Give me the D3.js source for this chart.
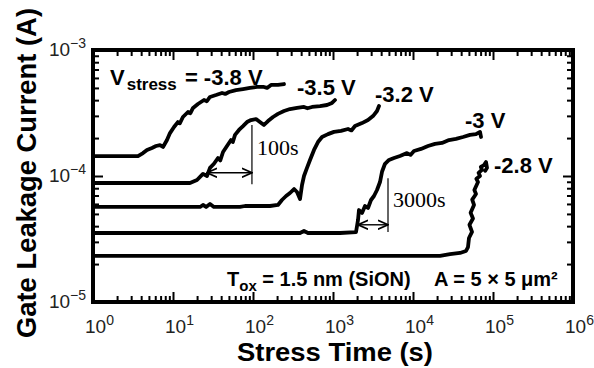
<!DOCTYPE html>
<html><head><meta charset="utf-8">
<script src="https://cdn.jsdelivr.net/npm/d3@7"></script>
<style>body{margin:0;background:#fff}svg{display:block}</style>
</head><body>
<svg id="c" width="594" height="368"></svg>
<script>
// ---- data (time in s, gate current in A) ----
const xTickValues = [1, 10, 100, 1000, 10000, 100000, 1000000];
const xTickExps = ["0", "1", "2", "3", "4", "5", "6"];
const yTickValues = [1e-3, 1e-4, 1e-5];
const yTickExps = ["\u22123", "\u22124", "\u22125"];

const s38 = [[1,1.44e-4],[3.65,1.44e-4],[4.22,1.52e-4],[4.73,1.61e-4],[5.46,1.67e-4],[6.13,1.73e-4],[6.88,1.76e-4],[7.5,1.70e-4],[8.41,1.93e-4],[9.17,2.19e-4],[10.3,2.45e-4],[11.5,2.68e-4],[12.2,2.62e-4],[13.3,2.94e-4],[15.4,3.22e-4],[16.5,3.15e-4],[17.8,3.47e-4],[20.5,3.73e-4],[24.4,4.01e-4],[26.5,3.92e-4],[29.0,4.24e-4],[34.5,4.39e-4],[41.0,4.56e-4],[45.0,4.48e-4],[50.1,4.64e-4],[61.3,4.81e-4],[75.0,4.90e-4],[91.7,5.00e-4],[112,5.09e-4],[137,5.09e-4],[150,5.00e-4],[168,5.28e-4],[205,5.28e-4],[244,5.37e-4]];
const s35 = [[1,8.8e-5],[16.3,8.8e-5],[19.95,9.3e-5],[23.7,1.04e-4],[26.6,1.0e-4],[29.0,1.16e-4],[32.5,1.25e-4],[36.5,1.39e-4],[39.0,1.33e-4],[42.2,1.55e-4],[47.3,1.73e-4],[53.1,1.93e-4],[56.0,1.86e-4],[59.6,2.12e-4],[66.8,2.32e-4],[75.0,2.49e-4],[84.1,2.68e-4],[94.4,2.78e-4],[109,2.83e-4],[122,2.68e-4],[137,2.54e-4],[154,2.73e-4],[178,2.94e-4],[205,3.11e-4],[244,3.28e-4],[290,3.40e-4],[355,3.47e-4],[434,3.53e-4],[480,3.45e-4],[547,3.53e-4],[688,3.59e-4],[841,3.66e-4],[972,3.80e-4],[1059,4.01e-4]];
const s32 = [[1,5.68e-5],[21.8,5.68e-5],[23.7,5.89e-5],[25.9,5.68e-5],[29.0,6.0e-5],[32.5,5.68e-5],[68.8,5.68e-5],[79.4,5.78e-5],[163,5.78e-5],[205,5.89e-5],[230,6.45e-5],[259,6.94e-5],[290,7.33e-5],[326,7.88e-5],[355,7.46e-5],[387,6.57e-5],[410,8.48e-5],[434,1.0e-4],[473,1.16e-4],[516,1.34e-4],[579,1.61e-4],[649,1.86e-4],[729,2.04e-4],[866,2.15e-4],[1029,2.24e-4],[1259,2.28e-4],[1540,2.36e-4],[1700,2.30e-4],[1884,2.49e-4],[2305,2.63e-4],[2738,2.78e-4],[3162,2.99e-4],[3548,3.28e-4],[3758,3.59e-4]];
const s30 = [[1,3.53e-5],[387,3.53e-5],[434,3.66e-5],[487,3.53e-5],[1223,3.53e-5],[1940,3.59e-5],[2054,4.47e-5],[2113,5.37e-5],[2305,5.09e-5],[2512,5.78e-5],[2738,5.57e-5],[2985,6.45e-5],[3254,6.94e-5],[3548,7.74e-5],[3868,8.96e-5],[4098,1.08e-4],[4467,1.25e-4],[5012,1.34e-4],[5790,1.39e-4],[6879,1.44e-4],[8414,1.52e-4],[9300,1.47e-4],[10290,1.58e-4],[12590,1.64e-4],[15400,1.73e-4],[18840,1.80e-4],[23050,1.83e-4],[28180,1.93e-4],[34470,1.97e-4],[42170,2.04e-4],[51580,2.12e-4],[61310,2.15e-4],[68790,2.24e-4],[70790,2.04e-4]];
const s28 = [[1,2.32e-5],[21760,2.32e-5],[29000,2.40e-5],[38680,2.45e-5],[45970,2.54e-5],[48700,2.73e-5],[50120,3.22e-5],[54650,3.60e-5],[50800,4.10e-5],[56200,4.60e-5],[52500,5.10e-5],[57870,5.89e-5],[55000,6.50e-5],[61300,7.20e-5],[58500,7.74e-5],[64940,8.96e-5],[62000,9.50e-5],[68790,1.0e-4],[66000,1.06e-4],[72870,1.12e-4],[70500,1.18e-4],[77200,1.22e-4],[81750,1.29e-4],[84140,1.16e-4],[80000,1.10e-4]];

const seriesLabels = ["-3.5 V", "-3.2 V", "-3 V", "-2.8 V"];

// ---- layout ----
const svg = d3.select("#c");
const L = 93, R = 573, T = 50, B = 302;
const x = d3.scaleLog().domain([1, 1e6]).range([L, R]);
const y = d3.scaleLog().domain([1e-5, 1e-3]).range([B, T]);

const minorX = [], minorY = [];
for (let e = 0; e < 6; e++) for (let m = 2; m <= 9; m++) minorX.push(m * Math.pow(10, e));
for (let e = -5; e < -3; e++) for (let m = 2; m <= 9; m++) minorY.push(m * Math.pow(10, e));

function styleAxis(g){ g.select(".domain").remove(); g.selectAll("line").attr("stroke","#000").attr("stroke-width",2); g.selectAll("text").remove(); }
svg.append("g").attr("transform",`translate(0,${B})`).call(d3.axisBottom(x).tickValues(xTickValues).tickSize(-10)).call(styleAxis);
svg.append("g").attr("transform",`translate(0,${B})`).call(d3.axisBottom(x).tickValues(minorX).tickSize(-6)).call(styleAxis);
svg.append("g").attr("transform",`translate(0,${T})`).call(d3.axisTop(x).tickValues(xTickValues).tickSize(-10)).call(styleAxis);
svg.append("g").attr("transform",`translate(0,${T})`).call(d3.axisTop(x).tickValues(minorX).tickSize(-6)).call(styleAxis);
svg.append("g").attr("transform",`translate(${L},0)`).call(d3.axisLeft(y).tickValues(yTickValues).tickSize(-10)).call(styleAxis);
svg.append("g").attr("transform",`translate(${L},0)`).call(d3.axisLeft(y).tickValues(minorY).tickSize(-6)).call(styleAxis);
svg.append("g").attr("transform",`translate(${R},0)`).call(d3.axisRight(y).tickValues(yTickValues).tickSize(-10)).call(styleAxis);
svg.append("g").attr("transform",`translate(${R},0)`).call(d3.axisRight(y).tickValues(minorY).tickSize(-6)).call(styleAxis);

// tick labels
const sans = "'Liberation Sans', Arial, sans-serif";
xTickValues.forEach((v,i)=>{
  const t = svg.append("text").attr("x", x(v)-8).attr("y", B+31).attr("font-family",sans).attr("font-size",19).attr("fill","#222");
  t.append("tspan").text("10");
  t.append("tspan").attr("dy",-8).attr("font-size",14).text(xTickExps[i]);
});
yTickValues.forEach((v,i)=>{
  const t = svg.append("text").attr("x", 86).attr("y", y(v)+6).attr("text-anchor","end").attr("font-family",sans).attr("font-size",19).attr("fill","#222");
  t.append("tspan").text("10");
  t.append("tspan").attr("dy",-8).attr("font-size",14).text(yTickExps[i]);
});

// curves
const line = d3.line().x(d=>x(d[0])).y(d=>y(d[1]));
[s38, s35, s32, s30, s28].forEach(s=>{
  svg.append("path").datum(s).attr("d", line).attr("fill","none").attr("stroke","#000")
    .attr("stroke-width",3.8).attr("stroke-linejoin","round").attr("stroke-linecap","round");
});

// frame
svg.append("rect").attr("x",L).attr("y",T).attr("width",R-L).attr("height",B-T)
  .attr("fill","none").attr("stroke","#000").attr("stroke-width",4);

// arrow markers
const defs = svg.append("defs");
["e","s"].forEach(k=>{
  defs.append("marker").attr("id","ah"+k).attr("viewBox","0 0 10 10").attr("refX", 9).attr("refY",5)
    .attr("markerWidth",8).attr("markerHeight",8).attr("orient", k==="e"?"auto":"auto-start-reverse")
    .append("path").attr("d","M0,1 L9,5 L0,9").attr("fill","none").attr("stroke","#000").attr("stroke-width",1.5);
});

// annotations: 100 s and 3000 s
const ann = [
  {x0: 26.6, x1: 97, yArrow: 1.06e-4, yTop: 2.54e-4, yBot: 8.6e-5, label: "100s", ty: 1.47e-4},
  {x0: 2054, x1: 4870, yArrow: 4.1e-5, yTop: 9.6e-5, yBot: 3.6e-5, label: "3000s", ty: 5.68e-5}
];
const serif = "'Liberation Serif', 'Times New Roman', serif";
ann.forEach(a=>{
  svg.append("line").attr("x1",x(a.x1)).attr("x2",x(a.x1)).attr("y1",y(a.yTop)).attr("y2",y(a.yBot)).attr("stroke","#000").attr("stroke-width",1.2);
  svg.append("line").attr("x1",x(a.x0)).attr("x2",x(a.x1)).attr("y1",y(a.yArrow)).attr("y2",y(a.yArrow))
    .attr("stroke","#000").attr("stroke-width",1.4).attr("marker-end","url(#ahe)").attr("marker-start","url(#ahs)");
  svg.append("text").attr("x",x(a.x1)+5).attr("y",y(a.ty)).attr("font-family",serif).attr("font-size",22).text(a.label);
});

// series labels
const lab = (txt, px, py) => svg.append("text").attr("x",px).attr("y",py).attr("font-family",sans).attr("font-weight","bold").attr("font-size",22).text(txt);
const vs = svg.append("text").attr("x",110).attr("y",85).attr("font-family",sans).attr("font-weight","bold").attr("font-size",22);
vs.append("tspan").text("V");
vs.append("tspan").attr("dy",5).attr("dx",2).attr("font-size",17).text("stress");
vs.append("tspan").attr("dy",-5).attr("dx",2).text(" = -3.8 V");
lab(seriesLabels[0], 297, 95);
lab(seriesLabels[1], 375, 102);
lab(seriesLabels[2], 465, 128);
lab(seriesLabels[3], 494, 173);

const tox = svg.append("text").attr("x",227).attr("y",286).attr("font-family",sans).attr("font-weight","bold").attr("font-size",20);
tox.append("tspan").text("T");
tox.append("tspan").attr("dy",5).attr("font-size",15).text("ox");
tox.append("tspan").attr("dy",-5).text(" = 1.5 nm (SiON)");
svg.append("text").attr("x",434).attr("y",286).attr("font-family",sans).attr("font-weight","bold").attr("font-size",20).text("A = 5 \u00d7 5 \u03bcm\u00b2");

// axis titles
svg.append("text").attr("x",335).attr("y",361).attr("text-anchor","middle").attr("font-family",sans).attr("font-weight","bold")
  .attr("font-size",25).attr("textLength",196).attr("lengthAdjust","spacingAndGlyphs").text("Stress Time (s)");
svg.append("text").attr("transform","translate(36,173) rotate(-90)").attr("text-anchor","middle").attr("font-family",sans).attr("font-weight","bold")
  .attr("font-size",27).attr("textLength",330).attr("lengthAdjust","spacingAndGlyphs").text("Gate Leakage Current (A)");
</script>
</body></html>
